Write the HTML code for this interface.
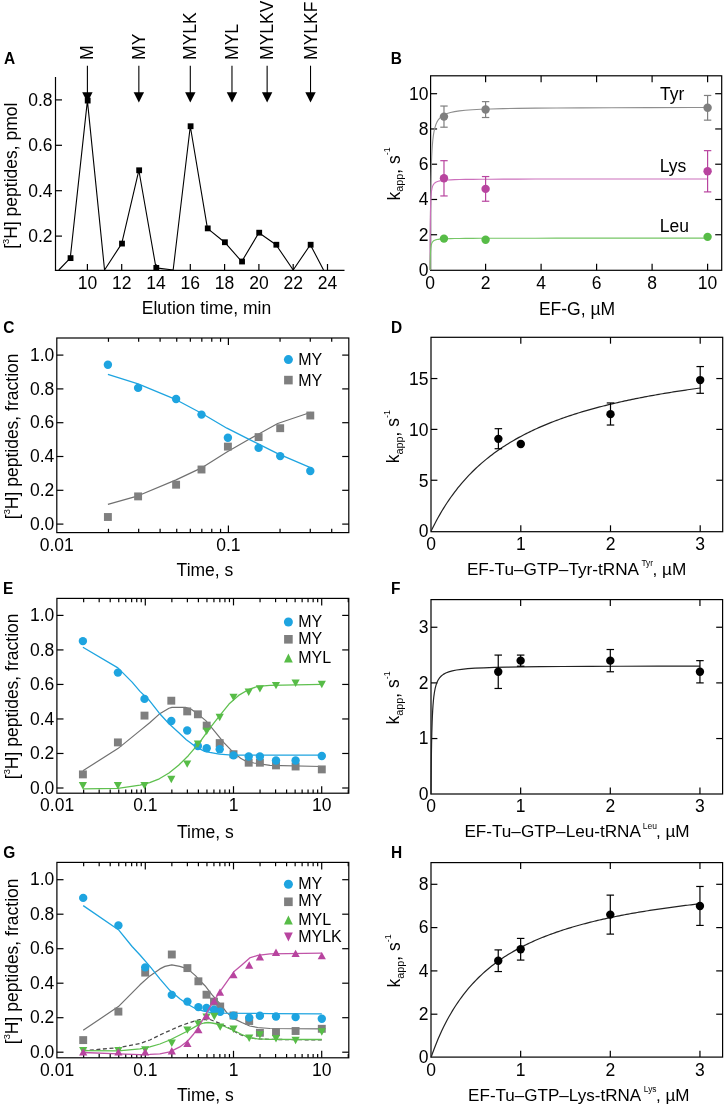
<!DOCTYPE html>
<html><head><meta charset="utf-8"><style>
html,body{margin:0;padding:0;background:#fff;}
svg{display:block;font-family:"Liberation Sans", sans-serif;will-change:transform;}
</style></head><body>
<svg width="725" height="1106" viewBox="0 0 725 1106">
<rect width="725" height="1106" fill="#fff"/>
<text transform="translate(3.91,64.3) scale(0.95,1)" font-size="16.3" font-weight="bold" fill="#000">A</text>
<line x1="55.5" y1="77" x2="55.5" y2="270.6" stroke="#000" stroke-width="1.2" />
<line x1="54.9" y1="270.4" x2="344.5" y2="270.4" stroke="#000" stroke-width="1.2" />
<line x1="55.5" y1="236.1" x2="62" y2="236.1" stroke="#000" stroke-width="1.2" />
<text x="52.5" y="242.1" font-size="17.5" text-anchor="end" font-weight="normal" fill="#000" >0.2</text>
<line x1="55.5" y1="190.7" x2="62" y2="190.7" stroke="#000" stroke-width="1.2" />
<text x="52.5" y="196.7" font-size="17.5" text-anchor="end" font-weight="normal" fill="#000" >0.4</text>
<line x1="55.5" y1="145.3" x2="62" y2="145.3" stroke="#000" stroke-width="1.2" />
<text x="52.5" y="151.3" font-size="17.5" text-anchor="end" font-weight="normal" fill="#000" >0.6</text>
<line x1="55.5" y1="99.9" x2="62" y2="99.9" stroke="#000" stroke-width="1.2" />
<text x="52.5" y="105.9" font-size="17.5" text-anchor="end" font-weight="normal" fill="#000" >0.8</text>
<line x1="87.4" y1="270" x2="87.4" y2="264" stroke="#000" stroke-width="1.2" />
<text x="87.4" y="288.9" font-size="17.5" text-anchor="middle" font-weight="normal" fill="#000" >10</text>
<line x1="121.7" y1="270" x2="121.7" y2="264" stroke="#000" stroke-width="1.2" />
<text x="121.7" y="288.9" font-size="17.5" text-anchor="middle" font-weight="normal" fill="#000" >12</text>
<line x1="156" y1="270" x2="156" y2="264" stroke="#000" stroke-width="1.2" />
<text x="156" y="288.9" font-size="17.5" text-anchor="middle" font-weight="normal" fill="#000" >14</text>
<line x1="190.3" y1="270" x2="190.3" y2="264" stroke="#000" stroke-width="1.2" />
<text x="190.3" y="288.9" font-size="17.5" text-anchor="middle" font-weight="normal" fill="#000" >16</text>
<line x1="224.6" y1="270" x2="224.6" y2="264" stroke="#000" stroke-width="1.2" />
<text x="224.6" y="288.9" font-size="17.5" text-anchor="middle" font-weight="normal" fill="#000" >18</text>
<line x1="258.9" y1="270" x2="258.9" y2="264" stroke="#000" stroke-width="1.2" />
<text x="258.9" y="288.9" font-size="17.5" text-anchor="middle" font-weight="normal" fill="#000" >20</text>
<line x1="293.2" y1="270" x2="293.2" y2="264" stroke="#000" stroke-width="1.2" />
<text x="293.2" y="288.9" font-size="17.5" text-anchor="middle" font-weight="normal" fill="#000" >22</text>
<line x1="327.5" y1="270" x2="327.5" y2="264" stroke="#000" stroke-width="1.2" />
<text x="327.5" y="288.9" font-size="17.5" text-anchor="middle" font-weight="normal" fill="#000" >24</text>
<text x="141.8" y="314.4" font-size="17.5" text-anchor="start" font-weight="normal" fill="#000" >Elution time, min</text>
<text transform="translate(17.3,248.8) rotate(-90)" font-size="17.5" fill="#000">[<tspan font-size="9.3" dy="-8">3</tspan><tspan dy="8">H] peptides, pmol</tspan></text>
<polyline points="58.8,270 70.25,258.12 87.4,100.58 104.55,270 121.7,243.59 138.85,170.27 156,267.88 173.15,270 190.3,126.23 207.45,228.38 224.6,242.23 241.75,261.52 258.9,232.69 276.05,244.73 293.2,270 310.35,244.73 323.56,270" fill="none" stroke="#000" stroke-width="1.1" stroke-linejoin="round" />
<rect x="67.65" y="255.22" width="5.8" height="5.8" fill="#000"/>
<rect x="84.8" y="97.68" width="5.8" height="5.8" fill="#000"/>
<rect x="119.1" y="240.69" width="5.8" height="5.8" fill="#000"/>
<rect x="136.25" y="167.37" width="5.8" height="5.8" fill="#000"/>
<rect x="153.4" y="264.98" width="5.8" height="5.8" fill="#000"/>
<rect x="187.7" y="123.33" width="5.8" height="5.8" fill="#000"/>
<rect x="204.85" y="225.48" width="5.8" height="5.8" fill="#000"/>
<rect x="222" y="239.33" width="5.8" height="5.8" fill="#000"/>
<rect x="239.15" y="258.62" width="5.8" height="5.8" fill="#000"/>
<rect x="256.3" y="229.79" width="5.8" height="5.8" fill="#000"/>
<rect x="273.45" y="241.83" width="5.8" height="5.8" fill="#000"/>
<rect x="307.75" y="241.83" width="5.8" height="5.8" fill="#000"/>
<line x1="87.4" y1="65.7" x2="87.4" y2="93" stroke="#000" stroke-width="1.1" />
<polygon points="82.2,92.2 92.6,92.2 87.4,102.4" fill="#000"/>
<text transform="translate(93.4,59.9) rotate(-90)" font-size="17.5" fill="#000">M</text>
<line x1="138.85" y1="65.7" x2="138.85" y2="93" stroke="#000" stroke-width="1.1" />
<polygon points="133.65,92.2 144.05,92.2 138.85,102.4" fill="#000"/>
<text transform="translate(144.85,59.9) rotate(-90)" font-size="17.5" fill="#000">MY</text>
<line x1="190.3" y1="65.7" x2="190.3" y2="93" stroke="#000" stroke-width="1.1" />
<polygon points="185.1,92.2 195.5,92.2 190.3,102.4" fill="#000"/>
<text transform="translate(196.3,59.9) rotate(-90)" font-size="17.5" fill="#000">MYLK</text>
<line x1="231.97" y1="65.7" x2="231.97" y2="93" stroke="#000" stroke-width="1.1" />
<polygon points="226.77,92.2 237.17,92.2 231.97,102.4" fill="#000"/>
<text transform="translate(237.97,59.9) rotate(-90)" font-size="17.5" fill="#000">MYL</text>
<line x1="267.13" y1="65.7" x2="267.13" y2="93" stroke="#000" stroke-width="1.1" />
<polygon points="261.93,92.2 272.33,92.2 267.13,102.4" fill="#000"/>
<text transform="translate(273.13,59.9) rotate(-90)" font-size="17.5" fill="#000">MYLKV</text>
<line x1="310.52" y1="65.7" x2="310.52" y2="93" stroke="#000" stroke-width="1.1" />
<polygon points="305.32,92.2 315.72,92.2 310.52,102.4" fill="#000"/>
<text transform="translate(316.52,59.9) rotate(-90)" font-size="17.5" fill="#000">MYLKF</text>
<text transform="translate(390.86,64.3) scale(0.95,1)" font-size="16.3" font-weight="bold" fill="#000">B</text>
<rect x="430.6" y="75.8" width="291.1" height="194.5" fill="none" stroke="#000" stroke-width="1.2"/>
<text x="428.5" y="276" font-size="17.5" text-anchor="end" font-weight="normal" fill="#000" >0</text>
<line x1="430.6" y1="234.74" x2="437.1" y2="234.74" stroke="#000" stroke-width="1.2" />
<line x1="721.7" y1="234.74" x2="715.2" y2="234.74" stroke="#000" stroke-width="1.2" />
<text x="428.5" y="240.74" font-size="17.5" text-anchor="end" font-weight="normal" fill="#000" >2</text>
<line x1="430.6" y1="199.48" x2="437.1" y2="199.48" stroke="#000" stroke-width="1.2" />
<line x1="721.7" y1="199.48" x2="715.2" y2="199.48" stroke="#000" stroke-width="1.2" />
<text x="428.5" y="205.48" font-size="17.5" text-anchor="end" font-weight="normal" fill="#000" >4</text>
<line x1="430.6" y1="164.22" x2="437.1" y2="164.22" stroke="#000" stroke-width="1.2" />
<line x1="721.7" y1="164.22" x2="715.2" y2="164.22" stroke="#000" stroke-width="1.2" />
<text x="428.5" y="170.22" font-size="17.5" text-anchor="end" font-weight="normal" fill="#000" >6</text>
<line x1="430.6" y1="128.96" x2="437.1" y2="128.96" stroke="#000" stroke-width="1.2" />
<line x1="721.7" y1="128.96" x2="715.2" y2="128.96" stroke="#000" stroke-width="1.2" />
<text x="428.5" y="134.96" font-size="17.5" text-anchor="end" font-weight="normal" fill="#000" >8</text>
<line x1="430.6" y1="93.7" x2="437.1" y2="93.7" stroke="#000" stroke-width="1.2" />
<line x1="721.7" y1="93.7" x2="715.2" y2="93.7" stroke="#000" stroke-width="1.2" />
<text x="428.5" y="99.7" font-size="17.5" text-anchor="end" font-weight="normal" fill="#000" >10</text>
<text x="430.1" y="288.8" font-size="17.5" text-anchor="middle" font-weight="normal" fill="#000" >0</text>
<line x1="485.6" y1="270.3" x2="485.6" y2="263.8" stroke="#000" stroke-width="1.2" />
<line x1="485.6" y1="75.8" x2="485.6" y2="82.3" stroke="#000" stroke-width="1.2" />
<text x="485.6" y="288.8" font-size="17.5" text-anchor="middle" font-weight="normal" fill="#000" >2</text>
<line x1="541.1" y1="270.3" x2="541.1" y2="263.8" stroke="#000" stroke-width="1.2" />
<line x1="541.1" y1="75.8" x2="541.1" y2="82.3" stroke="#000" stroke-width="1.2" />
<text x="541.1" y="288.8" font-size="17.5" text-anchor="middle" font-weight="normal" fill="#000" >4</text>
<line x1="596.6" y1="270.3" x2="596.6" y2="263.8" stroke="#000" stroke-width="1.2" />
<line x1="596.6" y1="75.8" x2="596.6" y2="82.3" stroke="#000" stroke-width="1.2" />
<text x="596.6" y="288.8" font-size="17.5" text-anchor="middle" font-weight="normal" fill="#000" >6</text>
<line x1="652.1" y1="270.3" x2="652.1" y2="263.8" stroke="#000" stroke-width="1.2" />
<line x1="652.1" y1="75.8" x2="652.1" y2="82.3" stroke="#000" stroke-width="1.2" />
<text x="652.1" y="288.8" font-size="17.5" text-anchor="middle" font-weight="normal" fill="#000" >8</text>
<line x1="707.6" y1="270.3" x2="707.6" y2="263.8" stroke="#000" stroke-width="1.2" />
<line x1="707.6" y1="75.8" x2="707.6" y2="82.3" stroke="#000" stroke-width="1.2" />
<text x="707.6" y="288.8" font-size="17.5" text-anchor="middle" font-weight="normal" fill="#000" >10</text>
<text x="577" y="314.7" font-size="17.5" text-anchor="middle" font-weight="normal" fill="#000" >EF-G, µM</text>
<text transform="translate(399.7,200.5) rotate(-90)" font-size="17.5" fill="#000">k<tspan font-size="10.8" dy="3.5">app</tspan><tspan dy="-3.5">, s</tspan><tspan font-size="9" dy="-9.3">-1</tspan></text>
<polyline points="430.1,270 430.11,266.81 430.12,266.18 430.12,265.44 430.12,264.56 430.13,263.51 430.13,262.28 430.14,260.82 430.15,259.11 430.16,257.1 430.17,254.76 430.19,252.05 430.2,248.92 430.22,245.35 430.25,241.29 430.28,236.72 430.31,231.63 430.36,226.02 430.41,219.93 430.47,213.4 430.54,206.49 430.63,199.3 430.74,191.94 430.87,184.52 431.02,177.17 431.2,170 431.42,163.12 431.69,156.62 432.01,150.57 432.39,145.01 432.84,139.97 433.39,135.44 434.05,131.42 434.84,127.89 435.79,124.8 436.93,122.12 438.3,119.81 439.93,117.83 441.9,116.14 444.26,114.71 447.09,113.49 450.49,112.46 454.57,111.59 459.47,110.86 465.34,110.24 472.39,109.73 480.84,109.3 490.99,108.93 503.17,108.63 517.79,108.38 535.32,108.17 556.37,107.99 581.62,107.84 611.93,107.72 648.29,107.62 691.93,107.53 707.6,107.51" fill="none" stroke="#8e8e8e" stroke-width="1.1" stroke-linejoin="round" />
<polyline points="430.1,270 430.11,264.64 430.12,263.64 430.12,262.47 430.12,261.12 430.13,259.54 430.13,257.73 430.14,255.67 430.15,253.32 430.16,250.69 430.17,247.77 430.19,244.57 430.2,241.1 430.22,237.38 430.25,233.47 430.28,229.42 430.31,225.29 430.36,221.14 430.41,217.04 430.47,213.07 430.54,209.27 430.63,205.69 430.74,202.37 430.87,199.33 431.02,196.58 431.2,194.12 431.42,191.94 431.69,190.03 432.01,188.36 432.39,186.92 432.84,185.67 433.39,184.61 434.05,183.7 434.84,182.93 435.79,182.27 436.93,181.72 438.3,181.26 439.93,180.86 441.9,180.54 444.26,180.26 447.09,180.03 450.49,179.83 454.57,179.67 459.47,179.54 465.34,179.42 472.39,179.33 480.84,179.25 490.99,179.18 503.17,179.13 517.79,179.08 535.32,179.04 556.37,179.01 581.62,178.99 611.93,178.96 648.29,178.95 691.93,178.93 707.6,178.93" fill="none" stroke="#cc70bc" stroke-width="1.1" stroke-linejoin="round" />
<polyline points="430.1,270 430.11,268.72 430.12,268.48 430.12,268.19 430.12,267.86 430.13,267.46 430.13,267 430.14,266.47 430.15,265.85 430.16,265.15 430.17,264.35 430.19,263.46 430.2,262.46 430.22,261.36 430.25,260.16 430.28,258.88 430.31,257.52 430.36,256.11 430.41,254.67 430.47,253.22 430.54,251.78 430.63,250.38 430.74,249.03 430.87,247.76 431.02,246.58 431.2,245.49 431.42,244.5 431.69,243.62 432.01,242.84 432.39,242.15 432.84,241.54 433.39,241.02 434.05,240.57 434.84,240.18 435.79,239.85 436.93,239.57 438.3,239.34 439.93,239.13 441.9,238.97 444.26,238.82 447.09,238.7 450.49,238.6 454.57,238.52 459.47,238.45 465.34,238.39 472.39,238.34 480.84,238.3 490.99,238.26 503.17,238.23 517.79,238.21 535.32,238.19 556.37,238.17 581.62,238.16 611.93,238.15 648.29,238.14 691.93,238.13 707.6,238.13" fill="none" stroke="#76c666" stroke-width="1.1" stroke-linejoin="round" />
<line x1="443.98" y1="106.04" x2="443.98" y2="127.2" stroke="#7f7f7f" stroke-width="1.2" />
<line x1="440.28" y1="106.04" x2="447.68" y2="106.04" stroke="#7f7f7f" stroke-width="1.2" />
<line x1="440.28" y1="127.2" x2="447.68" y2="127.2" stroke="#7f7f7f" stroke-width="1.2" />
<circle cx="443.98" cy="116.62" r="4.2" fill="#7f7f7f"/>
<line x1="485.6" y1="101.63" x2="485.6" y2="117.5" stroke="#7f7f7f" stroke-width="1.2" />
<line x1="481.9" y1="101.63" x2="489.3" y2="101.63" stroke="#7f7f7f" stroke-width="1.2" />
<line x1="481.9" y1="117.5" x2="489.3" y2="117.5" stroke="#7f7f7f" stroke-width="1.2" />
<circle cx="485.6" cy="109.57" r="4.2" fill="#7f7f7f"/>
<line x1="707.6" y1="95.46" x2="707.6" y2="120.15" stroke="#7f7f7f" stroke-width="1.2" />
<line x1="703.9" y1="95.46" x2="711.3" y2="95.46" stroke="#7f7f7f" stroke-width="1.2" />
<line x1="703.9" y1="120.15" x2="711.3" y2="120.15" stroke="#7f7f7f" stroke-width="1.2" />
<circle cx="707.6" cy="107.8" r="4.2" fill="#7f7f7f"/>
<line x1="443.98" y1="160.69" x2="443.98" y2="195.95" stroke="#b8449f" stroke-width="1.2" />
<line x1="440.28" y1="160.69" x2="447.68" y2="160.69" stroke="#b8449f" stroke-width="1.2" />
<line x1="440.28" y1="195.95" x2="447.68" y2="195.95" stroke="#b8449f" stroke-width="1.2" />
<circle cx="443.98" cy="178.32" r="4.2" fill="#b8449f"/>
<line x1="485.6" y1="176.56" x2="485.6" y2="201.24" stroke="#b8449f" stroke-width="1.2" />
<line x1="481.9" y1="176.56" x2="489.3" y2="176.56" stroke="#b8449f" stroke-width="1.2" />
<line x1="481.9" y1="201.24" x2="489.3" y2="201.24" stroke="#b8449f" stroke-width="1.2" />
<circle cx="485.6" cy="188.9" r="4.2" fill="#b8449f"/>
<line x1="707.6" y1="150.64" x2="707.6" y2="191.9" stroke="#b8449f" stroke-width="1.2" />
<line x1="703.9" y1="150.64" x2="711.3" y2="150.64" stroke="#b8449f" stroke-width="1.2" />
<line x1="703.9" y1="191.9" x2="711.3" y2="191.9" stroke="#b8449f" stroke-width="1.2" />
<circle cx="707.6" cy="171.27" r="4.2" fill="#b8449f"/>
<circle cx="443.98" cy="238.62" r="4.2" fill="#57bc47"/>
<circle cx="485.6" cy="239.68" r="4.2" fill="#57bc47"/>
<circle cx="707.6" cy="236.86" r="4.2" fill="#57bc47"/>
<text x="659.91" y="100" font-size="17.5" text-anchor="start" font-weight="normal" fill="#000" >Tyr</text>
<text x="659.77" y="172.1" font-size="17.5" text-anchor="start" font-weight="normal" fill="#000" >Lys</text>
<text x="659.77" y="232.3" font-size="17.5" text-anchor="start" font-weight="normal" fill="#000" >Leu</text>
<text transform="translate(3.37,333.3) scale(0.95,1)" font-size="16.3" font-weight="bold" fill="#000">C</text>
<rect x="56.8" y="338" width="292" height="194.6" fill="none" stroke="#000" stroke-width="1.2"/>
<line x1="108.46" y1="532.6" x2="108.46" y2="528.8" stroke="#000" stroke-width="1.2" />
<line x1="108.46" y1="338" x2="108.46" y2="341.8" stroke="#000" stroke-width="1.2" />
<line x1="138.67" y1="532.6" x2="138.67" y2="528.8" stroke="#000" stroke-width="1.2" />
<line x1="138.67" y1="338" x2="138.67" y2="341.8" stroke="#000" stroke-width="1.2" />
<line x1="160.11" y1="532.6" x2="160.11" y2="528.8" stroke="#000" stroke-width="1.2" />
<line x1="160.11" y1="338" x2="160.11" y2="341.8" stroke="#000" stroke-width="1.2" />
<line x1="176.74" y1="532.6" x2="176.74" y2="528.8" stroke="#000" stroke-width="1.2" />
<line x1="176.74" y1="338" x2="176.74" y2="341.8" stroke="#000" stroke-width="1.2" />
<line x1="190.33" y1="532.6" x2="190.33" y2="528.8" stroke="#000" stroke-width="1.2" />
<line x1="190.33" y1="338" x2="190.33" y2="341.8" stroke="#000" stroke-width="1.2" />
<line x1="201.82" y1="532.6" x2="201.82" y2="528.8" stroke="#000" stroke-width="1.2" />
<line x1="201.82" y1="338" x2="201.82" y2="341.8" stroke="#000" stroke-width="1.2" />
<line x1="211.77" y1="532.6" x2="211.77" y2="528.8" stroke="#000" stroke-width="1.2" />
<line x1="211.77" y1="338" x2="211.77" y2="341.8" stroke="#000" stroke-width="1.2" />
<line x1="220.55" y1="532.6" x2="220.55" y2="528.8" stroke="#000" stroke-width="1.2" />
<line x1="220.55" y1="338" x2="220.55" y2="341.8" stroke="#000" stroke-width="1.2" />
<line x1="228.4" y1="532.6" x2="228.4" y2="525.6" stroke="#000" stroke-width="1.2" />
<line x1="228.4" y1="338" x2="228.4" y2="345" stroke="#000" stroke-width="1.2" />
<line x1="280.06" y1="532.6" x2="280.06" y2="528.8" stroke="#000" stroke-width="1.2" />
<line x1="280.06" y1="338" x2="280.06" y2="341.8" stroke="#000" stroke-width="1.2" />
<line x1="310.27" y1="532.6" x2="310.27" y2="528.8" stroke="#000" stroke-width="1.2" />
<line x1="310.27" y1="338" x2="310.27" y2="341.8" stroke="#000" stroke-width="1.2" />
<line x1="331.71" y1="532.6" x2="331.71" y2="528.8" stroke="#000" stroke-width="1.2" />
<line x1="331.71" y1="338" x2="331.71" y2="341.8" stroke="#000" stroke-width="1.2" />
<line x1="56.8" y1="524.1" x2="63.4" y2="524.1" stroke="#000" stroke-width="1.2" />
<line x1="348.8" y1="524.1" x2="342.2" y2="524.1" stroke="#000" stroke-width="1.2" />
<text x="54.3" y="529.8" font-size="17.5" text-anchor="end" font-weight="normal" fill="#000" >0.0</text>
<line x1="56.8" y1="490.3" x2="63.4" y2="490.3" stroke="#000" stroke-width="1.2" />
<line x1="348.8" y1="490.3" x2="342.2" y2="490.3" stroke="#000" stroke-width="1.2" />
<text x="54.3" y="496" font-size="17.5" text-anchor="end" font-weight="normal" fill="#000" >0.2</text>
<line x1="56.8" y1="456.5" x2="63.4" y2="456.5" stroke="#000" stroke-width="1.2" />
<line x1="348.8" y1="456.5" x2="342.2" y2="456.5" stroke="#000" stroke-width="1.2" />
<text x="54.3" y="462.2" font-size="17.5" text-anchor="end" font-weight="normal" fill="#000" >0.4</text>
<line x1="56.8" y1="422.7" x2="63.4" y2="422.7" stroke="#000" stroke-width="1.2" />
<line x1="348.8" y1="422.7" x2="342.2" y2="422.7" stroke="#000" stroke-width="1.2" />
<text x="54.3" y="428.4" font-size="17.5" text-anchor="end" font-weight="normal" fill="#000" >0.6</text>
<line x1="56.8" y1="388.9" x2="63.4" y2="388.9" stroke="#000" stroke-width="1.2" />
<line x1="348.8" y1="388.9" x2="342.2" y2="388.9" stroke="#000" stroke-width="1.2" />
<text x="54.3" y="394.6" font-size="17.5" text-anchor="end" font-weight="normal" fill="#000" >0.8</text>
<line x1="56.8" y1="355.1" x2="63.4" y2="355.1" stroke="#000" stroke-width="1.2" />
<line x1="348.8" y1="355.1" x2="342.2" y2="355.1" stroke="#000" stroke-width="1.2" />
<text x="54.3" y="360.8" font-size="17.5" text-anchor="end" font-weight="normal" fill="#000" >1.0</text>
<text x="56.8" y="551.1" font-size="17.5" text-anchor="middle" font-weight="normal" fill="#000" >0.01</text>
<text x="228.4" y="551.1" font-size="17.5" text-anchor="middle" font-weight="normal" fill="#000" >0.1</text>
<text x="176.62" y="575.5" font-size="17.5" text-anchor="start" font-weight="normal" fill="#000" >Time, s</text>
<text transform="translate(17.5,519.2) rotate(-90)" font-size="17.5" fill="#000">[<tspan font-size="9.3" dy="-8">3</tspan><tspan dy="8">H] peptides, fraction</tspan></text>
<polyline points="107.9,504.4 138.1,495.8 176.1,479.9 201.5,467.9 226.9,452 249.1,439.3 277.7,423.5 311,412.3" fill="none" stroke="#707070" stroke-width="1.2" stroke-linejoin="round" />
<rect x="103.95" y="513.05" width="7.9" height="7.9" fill="#7f7f7f"/>
<rect x="134.15" y="492.45" width="7.9" height="7.9" fill="#7f7f7f"/>
<rect x="172.15" y="480.75" width="7.9" height="7.9" fill="#7f7f7f"/>
<rect x="197.55" y="465.55" width="7.9" height="7.9" fill="#7f7f7f"/>
<rect x="223.95" y="442.65" width="7.9" height="7.9" fill="#7f7f7f"/>
<rect x="254.65" y="433.15" width="7.9" height="7.9" fill="#7f7f7f"/>
<rect x="276.25" y="424.25" width="7.9" height="7.9" fill="#7f7f7f"/>
<rect x="306.35" y="411.55" width="7.9" height="7.9" fill="#7f7f7f"/>
<polyline points="107.9,374.3 138.1,383.8 176.1,399.7 201.5,413.3 226.9,428.2 249.1,439.3 277.7,453.6 311,467.9" fill="none" stroke="#1ea4e0" stroke-width="1.3" stroke-linejoin="round" />
<circle cx="107.9" cy="364.8" r="4.2" fill="#1ea4e0"/>
<circle cx="138.1" cy="387.9" r="4.2" fill="#1ea4e0"/>
<circle cx="176.1" cy="399" r="4.2" fill="#1ea4e0"/>
<circle cx="201.5" cy="414.6" r="4.2" fill="#1ea4e0"/>
<circle cx="227.9" cy="437.7" r="4.2" fill="#1ea4e0"/>
<circle cx="258.6" cy="447.9" r="4.2" fill="#1ea4e0"/>
<circle cx="280.2" cy="456.1" r="4.2" fill="#1ea4e0"/>
<circle cx="310.3" cy="471" r="4.2" fill="#1ea4e0"/>
<circle cx="288.4" cy="359.6" r="4.5" fill="#1ea4e0"/>
<text x="298.19" y="365.4" font-size="16" text-anchor="start" font-weight="normal" fill="#000" >MY</text>
<rect x="284.1" y="375.8" width="8.6" height="8.6" fill="#7f7f7f"/>
<text x="298.19" y="385.6" font-size="16" text-anchor="start" font-weight="normal" fill="#000" >MY</text>
<text transform="translate(390.96,333.1) scale(0.95,1)" font-size="16.3" font-weight="bold" fill="#000">D</text>
<rect x="431" y="337.3" width="291.7" height="194.4" fill="none" stroke="#000" stroke-width="1.2"/>
<text x="428.4" y="537.4" font-size="17.5" text-anchor="end" font-weight="normal" fill="#000" >0</text>
<line x1="431" y1="480.25" x2="437.4" y2="480.25" stroke="#000" stroke-width="1.2" />
<line x1="722.7" y1="480.25" x2="716.3" y2="480.25" stroke="#000" stroke-width="1.2" />
<text x="428.4" y="486.55" font-size="17.5" text-anchor="end" font-weight="normal" fill="#000" >5</text>
<line x1="431" y1="429.4" x2="437.4" y2="429.4" stroke="#000" stroke-width="1.2" />
<line x1="722.7" y1="429.4" x2="716.3" y2="429.4" stroke="#000" stroke-width="1.2" />
<text x="428.4" y="435.7" font-size="17.5" text-anchor="end" font-weight="normal" fill="#000" >10</text>
<line x1="431" y1="378.55" x2="437.4" y2="378.55" stroke="#000" stroke-width="1.2" />
<line x1="722.7" y1="378.55" x2="716.3" y2="378.55" stroke="#000" stroke-width="1.2" />
<text x="428.4" y="384.85" font-size="17.5" text-anchor="end" font-weight="normal" fill="#000" >15</text>
<text x="431.1" y="549.5" font-size="17.5" text-anchor="middle" font-weight="normal" fill="#000" >0</text>
<line x1="520.8" y1="531.7" x2="520.8" y2="525.3" stroke="#000" stroke-width="1.2" />
<line x1="520.8" y1="337.3" x2="520.8" y2="343.7" stroke="#000" stroke-width="1.2" />
<text x="520.8" y="549.5" font-size="17.5" text-anchor="middle" font-weight="normal" fill="#000" >1</text>
<line x1="610.5" y1="531.7" x2="610.5" y2="525.3" stroke="#000" stroke-width="1.2" />
<line x1="610.5" y1="337.3" x2="610.5" y2="343.7" stroke="#000" stroke-width="1.2" />
<text x="610.5" y="549.5" font-size="17.5" text-anchor="middle" font-weight="normal" fill="#000" >2</text>
<line x1="700.2" y1="531.7" x2="700.2" y2="525.3" stroke="#000" stroke-width="1.2" />
<line x1="700.2" y1="337.3" x2="700.2" y2="343.7" stroke="#000" stroke-width="1.2" />
<text x="700.2" y="549.5" font-size="17.5" text-anchor="middle" font-weight="normal" fill="#000" >3</text>
<text transform="translate(399.1,463.2) rotate(-90)" font-size="17.5" fill="#000">k<tspan font-size="10.8" dy="3.5">app</tspan><tspan dy="-3.5">, s</tspan><tspan font-size="9" dy="-9.3">-1</tspan></text>
<polyline points="431.1,531.1 432.89,527.44 434.69,523.91 436.48,520.52 438.28,517.25 440.07,514.09 441.86,511.04 443.66,508.1 445.45,505.26 447.25,502.51 449.04,499.85 450.83,497.27 452.63,494.78 454.42,492.36 456.22,490.02 458.01,487.74 459.8,485.54 461.6,483.4 463.39,481.32 465.19,479.3 466.98,477.33 468.77,475.42 470.57,473.57 472.36,471.76 474.16,470 475.95,468.29 477.74,466.62 479.54,464.99 481.33,463.4 483.13,461.86 484.92,460.35 486.71,458.87 488.51,457.44 490.3,456.03 492.1,454.66 493.89,453.33 495.68,452.02 497.48,450.74 499.27,449.49 501.07,448.27 502.86,447.07 504.65,445.9 506.45,444.76 508.24,443.64 510.04,442.54 511.83,441.47 513.62,440.41 515.42,439.38 517.21,438.37 519.01,437.38 520.8,436.41 522.59,435.46 524.39,434.53 526.18,433.61 527.98,432.72 529.77,431.84 531.56,430.97 533.36,430.12 535.15,429.29 536.95,428.47 538.74,427.67 540.53,426.88 542.33,426.1 544.12,425.34 545.92,424.59 547.71,423.86 549.5,423.13 551.3,422.42 553.09,421.72 554.89,421.04 556.68,420.36 558.47,419.69 560.27,419.04 562.06,418.4 563.86,417.76 565.65,417.14 567.44,416.53 569.24,415.92 571.03,415.33 572.83,414.74 574.62,414.16 576.41,413.6 578.21,413.04 580,412.49 581.8,411.94 583.59,411.41 585.38,410.88 587.18,410.36 588.97,409.85 590.77,409.34 592.56,408.84 594.35,408.35 596.15,407.87 597.94,407.39 599.74,406.92 601.53,406.46 603.32,406 605.12,405.55 606.91,405.1 608.71,404.66 610.5,404.23 612.29,403.8 614.09,403.38 615.88,402.96 617.68,402.55 619.47,402.14 621.26,401.74 623.06,401.34 624.85,400.95 626.65,400.56 628.44,400.18 630.23,399.8 632.03,399.43 633.82,399.06 635.62,398.7 637.41,398.34 639.2,397.99 641,397.63 642.79,397.29 644.59,396.95 646.38,396.61 648.17,396.27 649.97,395.94 651.76,395.61 653.56,395.29 655.35,394.97 657.14,394.66 658.94,394.34 660.73,394.03 662.53,393.73 664.32,393.43 666.11,393.13 667.91,392.83 669.7,392.54 671.5,392.25 673.29,391.96 675.08,391.68 676.88,391.4 678.67,391.12 680.47,390.85 682.26,390.58 684.05,390.31 685.85,390.04 687.64,389.78 689.44,389.52 691.23,389.26 693.02,389.01 694.82,388.76 696.61,388.51 698.41,388.26 700.2,388.01" fill="none" stroke="#222" stroke-width="1.2" stroke-linejoin="round" />
<line x1="498.38" y1="428.69" x2="498.38" y2="448.72" stroke="#000" stroke-width="1.2" />
<line x1="494.62" y1="428.69" x2="502.12" y2="428.69" stroke="#000" stroke-width="1.2" />
<line x1="494.62" y1="448.72" x2="502.12" y2="448.72" stroke="#000" stroke-width="1.2" />
<line x1="610.5" y1="402.96" x2="610.5" y2="425.03" stroke="#000" stroke-width="1.2" />
<line x1="606.75" y1="402.96" x2="614.25" y2="402.96" stroke="#000" stroke-width="1.2" />
<line x1="606.75" y1="425.03" x2="614.25" y2="425.03" stroke="#000" stroke-width="1.2" />
<line x1="700.2" y1="366.55" x2="700.2" y2="393.3" stroke="#000" stroke-width="1.2" />
<line x1="696.45" y1="366.55" x2="703.95" y2="366.55" stroke="#000" stroke-width="1.2" />
<line x1="696.45" y1="393.3" x2="703.95" y2="393.3" stroke="#000" stroke-width="1.2" />
<circle cx="498.38" cy="438.86" r="4.2" fill="#000"/>
<circle cx="520.8" cy="444.04" r="4.2" fill="#000"/>
<circle cx="610.5" cy="414.15" r="4.2" fill="#000"/>
<circle cx="700.2" cy="380.08" r="4.2" fill="#000"/>
<text x="466.89" y="575.4" font-size="17.2" text-anchor="start" font-weight="normal" fill="#000" >EF-Tu–GTP–Tyr-tRNA</text>
<text x="641.43" y="566.2" font-size="8.3" text-anchor="start" font-weight="normal" fill="#000" >Tyr</text>
<text x="652.46" y="575.4" font-size="17.2" text-anchor="start" font-weight="normal" fill="#000" >, µM</text>
<text transform="translate(2.96,593.8) scale(0.95,1)" font-size="16.3" font-weight="bold" fill="#000">E</text>
<rect x="56.9" y="598.4" width="291.9" height="194.8" fill="none" stroke="#000" stroke-width="1.2"/>
<line x1="83.65" y1="793.2" x2="83.65" y2="789.4" stroke="#000" stroke-width="1.2" />
<line x1="83.65" y1="598.4" x2="83.65" y2="602.2" stroke="#000" stroke-width="1.2" />
<line x1="99.18" y1="793.2" x2="99.18" y2="789.4" stroke="#000" stroke-width="1.2" />
<line x1="99.18" y1="598.4" x2="99.18" y2="602.2" stroke="#000" stroke-width="1.2" />
<line x1="110.2" y1="793.2" x2="110.2" y2="789.4" stroke="#000" stroke-width="1.2" />
<line x1="110.2" y1="598.4" x2="110.2" y2="602.2" stroke="#000" stroke-width="1.2" />
<line x1="118.75" y1="793.2" x2="118.75" y2="789.4" stroke="#000" stroke-width="1.2" />
<line x1="118.75" y1="598.4" x2="118.75" y2="602.2" stroke="#000" stroke-width="1.2" />
<line x1="125.73" y1="793.2" x2="125.73" y2="789.4" stroke="#000" stroke-width="1.2" />
<line x1="125.73" y1="598.4" x2="125.73" y2="602.2" stroke="#000" stroke-width="1.2" />
<line x1="131.64" y1="793.2" x2="131.64" y2="789.4" stroke="#000" stroke-width="1.2" />
<line x1="131.64" y1="598.4" x2="131.64" y2="602.2" stroke="#000" stroke-width="1.2" />
<line x1="136.75" y1="793.2" x2="136.75" y2="789.4" stroke="#000" stroke-width="1.2" />
<line x1="136.75" y1="598.4" x2="136.75" y2="602.2" stroke="#000" stroke-width="1.2" />
<line x1="141.26" y1="793.2" x2="141.26" y2="789.4" stroke="#000" stroke-width="1.2" />
<line x1="141.26" y1="598.4" x2="141.26" y2="602.2" stroke="#000" stroke-width="1.2" />
<line x1="145.3" y1="793.2" x2="145.3" y2="786.2" stroke="#000" stroke-width="1.2" />
<line x1="145.3" y1="598.4" x2="145.3" y2="605.4" stroke="#000" stroke-width="1.2" />
<line x1="171.85" y1="793.2" x2="171.85" y2="789.4" stroke="#000" stroke-width="1.2" />
<line x1="171.85" y1="598.4" x2="171.85" y2="602.2" stroke="#000" stroke-width="1.2" />
<line x1="187.38" y1="793.2" x2="187.38" y2="789.4" stroke="#000" stroke-width="1.2" />
<line x1="187.38" y1="598.4" x2="187.38" y2="602.2" stroke="#000" stroke-width="1.2" />
<line x1="198.4" y1="793.2" x2="198.4" y2="789.4" stroke="#000" stroke-width="1.2" />
<line x1="198.4" y1="598.4" x2="198.4" y2="602.2" stroke="#000" stroke-width="1.2" />
<line x1="206.95" y1="793.2" x2="206.95" y2="789.4" stroke="#000" stroke-width="1.2" />
<line x1="206.95" y1="598.4" x2="206.95" y2="602.2" stroke="#000" stroke-width="1.2" />
<line x1="213.93" y1="793.2" x2="213.93" y2="789.4" stroke="#000" stroke-width="1.2" />
<line x1="213.93" y1="598.4" x2="213.93" y2="602.2" stroke="#000" stroke-width="1.2" />
<line x1="219.84" y1="793.2" x2="219.84" y2="789.4" stroke="#000" stroke-width="1.2" />
<line x1="219.84" y1="598.4" x2="219.84" y2="602.2" stroke="#000" stroke-width="1.2" />
<line x1="224.95" y1="793.2" x2="224.95" y2="789.4" stroke="#000" stroke-width="1.2" />
<line x1="224.95" y1="598.4" x2="224.95" y2="602.2" stroke="#000" stroke-width="1.2" />
<line x1="229.46" y1="793.2" x2="229.46" y2="789.4" stroke="#000" stroke-width="1.2" />
<line x1="229.46" y1="598.4" x2="229.46" y2="602.2" stroke="#000" stroke-width="1.2" />
<line x1="233.5" y1="793.2" x2="233.5" y2="786.2" stroke="#000" stroke-width="1.2" />
<line x1="233.5" y1="598.4" x2="233.5" y2="605.4" stroke="#000" stroke-width="1.2" />
<line x1="260.05" y1="793.2" x2="260.05" y2="789.4" stroke="#000" stroke-width="1.2" />
<line x1="260.05" y1="598.4" x2="260.05" y2="602.2" stroke="#000" stroke-width="1.2" />
<line x1="275.58" y1="793.2" x2="275.58" y2="789.4" stroke="#000" stroke-width="1.2" />
<line x1="275.58" y1="598.4" x2="275.58" y2="602.2" stroke="#000" stroke-width="1.2" />
<line x1="286.6" y1="793.2" x2="286.6" y2="789.4" stroke="#000" stroke-width="1.2" />
<line x1="286.6" y1="598.4" x2="286.6" y2="602.2" stroke="#000" stroke-width="1.2" />
<line x1="295.15" y1="793.2" x2="295.15" y2="789.4" stroke="#000" stroke-width="1.2" />
<line x1="295.15" y1="598.4" x2="295.15" y2="602.2" stroke="#000" stroke-width="1.2" />
<line x1="302.13" y1="793.2" x2="302.13" y2="789.4" stroke="#000" stroke-width="1.2" />
<line x1="302.13" y1="598.4" x2="302.13" y2="602.2" stroke="#000" stroke-width="1.2" />
<line x1="308.04" y1="793.2" x2="308.04" y2="789.4" stroke="#000" stroke-width="1.2" />
<line x1="308.04" y1="598.4" x2="308.04" y2="602.2" stroke="#000" stroke-width="1.2" />
<line x1="313.15" y1="793.2" x2="313.15" y2="789.4" stroke="#000" stroke-width="1.2" />
<line x1="313.15" y1="598.4" x2="313.15" y2="602.2" stroke="#000" stroke-width="1.2" />
<line x1="317.66" y1="793.2" x2="317.66" y2="789.4" stroke="#000" stroke-width="1.2" />
<line x1="317.66" y1="598.4" x2="317.66" y2="602.2" stroke="#000" stroke-width="1.2" />
<line x1="321.7" y1="793.2" x2="321.7" y2="786.2" stroke="#000" stroke-width="1.2" />
<line x1="321.7" y1="598.4" x2="321.7" y2="605.4" stroke="#000" stroke-width="1.2" />
<line x1="348.25" y1="793.2" x2="348.25" y2="789.4" stroke="#000" stroke-width="1.2" />
<line x1="348.25" y1="598.4" x2="348.25" y2="602.2" stroke="#000" stroke-width="1.2" />
<line x1="56.9" y1="788" x2="63.5" y2="788" stroke="#000" stroke-width="1.2" />
<line x1="348.8" y1="788" x2="342.2" y2="788" stroke="#000" stroke-width="1.2" />
<text x="54.3" y="793.7" font-size="17.5" text-anchor="end" font-weight="normal" fill="#000" >0.0</text>
<line x1="56.9" y1="753.48" x2="63.5" y2="753.48" stroke="#000" stroke-width="1.2" />
<line x1="348.8" y1="753.48" x2="342.2" y2="753.48" stroke="#000" stroke-width="1.2" />
<text x="54.3" y="759.18" font-size="17.5" text-anchor="end" font-weight="normal" fill="#000" >0.2</text>
<line x1="56.9" y1="718.96" x2="63.5" y2="718.96" stroke="#000" stroke-width="1.2" />
<line x1="348.8" y1="718.96" x2="342.2" y2="718.96" stroke="#000" stroke-width="1.2" />
<text x="54.3" y="724.66" font-size="17.5" text-anchor="end" font-weight="normal" fill="#000" >0.4</text>
<line x1="56.9" y1="684.44" x2="63.5" y2="684.44" stroke="#000" stroke-width="1.2" />
<line x1="348.8" y1="684.44" x2="342.2" y2="684.44" stroke="#000" stroke-width="1.2" />
<text x="54.3" y="690.14" font-size="17.5" text-anchor="end" font-weight="normal" fill="#000" >0.6</text>
<line x1="56.9" y1="649.92" x2="63.5" y2="649.92" stroke="#000" stroke-width="1.2" />
<line x1="348.8" y1="649.92" x2="342.2" y2="649.92" stroke="#000" stroke-width="1.2" />
<text x="54.3" y="655.62" font-size="17.5" text-anchor="end" font-weight="normal" fill="#000" >0.8</text>
<line x1="56.9" y1="615.4" x2="63.5" y2="615.4" stroke="#000" stroke-width="1.2" />
<line x1="348.8" y1="615.4" x2="342.2" y2="615.4" stroke="#000" stroke-width="1.2" />
<text x="54.3" y="621.1" font-size="17.5" text-anchor="end" font-weight="normal" fill="#000" >1.0</text>
<text x="57.1" y="811.1" font-size="17.5" text-anchor="middle" font-weight="normal" fill="#000" >0.01</text>
<text x="145.3" y="811.1" font-size="17.5" text-anchor="middle" font-weight="normal" fill="#000" >0.1</text>
<text x="233.5" y="811.1" font-size="17.5" text-anchor="middle" font-weight="normal" fill="#000" >1</text>
<text x="321.7" y="811.1" font-size="17.5" text-anchor="middle" font-weight="normal" fill="#000" >10</text>
<text x="177.02" y="838.3" font-size="17.5" text-anchor="start" font-weight="normal" fill="#000" >Time, s</text>
<text transform="translate(17.5,779.2) rotate(-90)" font-size="17.5" fill="#000">[<tspan font-size="9.3" dy="-8">3</tspan><tspan dy="8">H] peptides, fraction</tspan></text>
<polyline points="82.9,770.7 117.9,748.6 140,730.6 149.7,722.8 159.3,714.1 169,708.3 171.9,707.4 185.4,707.4 191.2,709.3 197.9,714.1 205.8,720.6 214.5,731.2 224.1,742.8 232.8,751.9 240.6,758.2 246.3,761.6 254.1,763 270,765.4 321.8,766.5" fill="none" stroke="#707070" stroke-width="1.2" stroke-linejoin="round" />
<rect x="78.95" y="770.45" width="7.9" height="7.9" fill="#7f7f7f"/>
<rect x="113.95" y="738.45" width="7.9" height="7.9" fill="#7f7f7f"/>
<rect x="140.55" y="711.65" width="7.9" height="7.9" fill="#7f7f7f"/>
<rect x="167.35" y="696.75" width="7.9" height="7.9" fill="#7f7f7f"/>
<rect x="183.25" y="707.45" width="7.9" height="7.9" fill="#7f7f7f"/>
<rect x="193.95" y="710.35" width="7.9" height="7.9" fill="#7f7f7f"/>
<rect x="202.75" y="721.65" width="7.9" height="7.9" fill="#7f7f7f"/>
<rect x="215.75" y="739.15" width="7.9" height="7.9" fill="#7f7f7f"/>
<rect x="229.55" y="750.25" width="7.9" height="7.9" fill="#7f7f7f"/>
<rect x="244.75" y="758.75" width="7.9" height="7.9" fill="#7f7f7f"/>
<rect x="255.95" y="758.75" width="7.9" height="7.9" fill="#7f7f7f"/>
<rect x="272.05" y="761.45" width="7.9" height="7.9" fill="#7f7f7f"/>
<rect x="291.65" y="762.55" width="7.9" height="7.9" fill="#7f7f7f"/>
<rect x="317.85" y="765.45" width="7.9" height="7.9" fill="#7f7f7f"/>
<polyline points="82.9,647.3 117.9,667.9 132.1,682.1 140,691.4 148.7,699.7 159.3,713.2 169,723.8 178.6,732.5 186.3,739.7 192.1,744.1 197.9,747.9 203.7,750.8 209.7,752.4 219.3,754.2 229,754.8 238.6,755.1 321.8,755.2" fill="none" stroke="#1ea4e0" stroke-width="1.3" stroke-linejoin="round" />
<circle cx="82.9" cy="641.1" r="4.2" fill="#1ea4e0"/>
<circle cx="117.9" cy="672.6" r="4.2" fill="#1ea4e0"/>
<circle cx="144.5" cy="698.9" r="4.2" fill="#1ea4e0"/>
<circle cx="171.3" cy="721" r="4.2" fill="#1ea4e0"/>
<circle cx="187.2" cy="730.5" r="4.2" fill="#1ea4e0"/>
<circle cx="197.9" cy="746.1" r="4.2" fill="#1ea4e0"/>
<circle cx="206.7" cy="748.2" r="4.2" fill="#1ea4e0"/>
<circle cx="219.7" cy="749.3" r="4.2" fill="#1ea4e0"/>
<circle cx="233.5" cy="755.4" r="4.2" fill="#1ea4e0"/>
<circle cx="248.7" cy="756.5" r="4.2" fill="#1ea4e0"/>
<circle cx="259.9" cy="756.5" r="4.2" fill="#1ea4e0"/>
<circle cx="276" cy="760.5" r="4.2" fill="#1ea4e0"/>
<circle cx="295.6" cy="760.5" r="4.2" fill="#1ea4e0"/>
<circle cx="321.8" cy="756" r="4.2" fill="#1ea4e0"/>
<polyline points="82.9,788.8 117.9,788.4 140,785.1 149.7,782.7 159.3,778.8 169,773 178.6,765.3 188.3,755.7 194.1,748.9 200,741.8 209.7,728.3 219.3,716.2 229,704.1 238.6,695.4 248.3,689.7 257.9,686.3 270,685.3 321.8,684.3" fill="none" stroke="#5fc04f" stroke-width="1.3" stroke-linejoin="round" />
<polygon points="78.8,782 87,782 82.9,789.4" fill="#57bc47"/>
<polygon points="113.8,782 122,782 117.9,789.4" fill="#57bc47"/>
<polygon points="140.4,782 148.6,782 144.5,789.4" fill="#57bc47"/>
<polygon points="167.2,775.8 175.4,775.8 171.3,783.2" fill="#57bc47"/>
<polygon points="183.1,760.4 191.3,760.4 187.2,767.8" fill="#57bc47"/>
<polygon points="193.8,740.5 202,740.5 197.9,747.9" fill="#57bc47"/>
<polygon points="202.6,727.7 210.8,727.7 206.7,735.1" fill="#57bc47"/>
<polygon points="215.6,713.8 223.8,713.8 219.7,721.2" fill="#57bc47"/>
<polygon points="229.4,693.7 237.6,693.7 233.5,701.1" fill="#57bc47"/>
<polygon points="244.6,688.6 252.8,688.6 248.7,696" fill="#57bc47"/>
<polygon points="255.8,685.2 264,685.2 259.9,692.6" fill="#57bc47"/>
<polygon points="271.9,681.9 280.1,681.9 276,689.3" fill="#57bc47"/>
<polygon points="291.5,679.6 299.7,679.6 295.6,687" fill="#57bc47"/>
<polygon points="317.7,680.8 325.9,680.8 321.8,688.2" fill="#57bc47"/>
<circle cx="288.4" cy="622" r="4.5" fill="#1ea4e0"/>
<text x="298.19" y="626.6" font-size="16" text-anchor="start" font-weight="normal" fill="#000" >MY</text>
<rect x="284.1" y="635" width="8.6" height="8.6" fill="#7f7f7f"/>
<text x="298.19" y="644" font-size="16" text-anchor="start" font-weight="normal" fill="#000" >MY</text>
<polygon points="284,662.6 292.8,662.6 288.4,653.4" fill="#57bc47"/>
<text x="298.19" y="663" font-size="16" text-anchor="start" font-weight="normal" fill="#000" >MYL</text>
<text transform="translate(390.96,593.5) scale(0.95,1)" font-size="16.3" font-weight="bold" fill="#000">F</text>
<rect x="431" y="599.6" width="291.6" height="194.4" fill="none" stroke="#000" stroke-width="1.2"/>
<text x="428.4" y="800" font-size="17.5" text-anchor="end" font-weight="normal" fill="#000" >0</text>
<line x1="431" y1="738.55" x2="437.4" y2="738.55" stroke="#000" stroke-width="1.2" />
<line x1="722.6" y1="738.55" x2="716.2" y2="738.55" stroke="#000" stroke-width="1.2" />
<text x="428.4" y="744.35" font-size="17.5" text-anchor="end" font-weight="normal" fill="#000" >1</text>
<line x1="431" y1="682.9" x2="437.4" y2="682.9" stroke="#000" stroke-width="1.2" />
<line x1="722.6" y1="682.9" x2="716.2" y2="682.9" stroke="#000" stroke-width="1.2" />
<text x="428.4" y="688.7" font-size="17.5" text-anchor="end" font-weight="normal" fill="#000" >2</text>
<line x1="431" y1="627.25" x2="437.4" y2="627.25" stroke="#000" stroke-width="1.2" />
<line x1="722.6" y1="627.25" x2="716.2" y2="627.25" stroke="#000" stroke-width="1.2" />
<text x="428.4" y="633.05" font-size="17.5" text-anchor="end" font-weight="normal" fill="#000" >3</text>
<text x="431" y="811.7" font-size="17.5" text-anchor="middle" font-weight="normal" fill="#000" >0</text>
<line x1="520.65" y1="794" x2="520.65" y2="787.6" stroke="#000" stroke-width="1.2" />
<line x1="520.65" y1="599.6" x2="520.65" y2="606" stroke="#000" stroke-width="1.2" />
<text x="520.65" y="811.7" font-size="17.5" text-anchor="middle" font-weight="normal" fill="#000" >1</text>
<line x1="610.3" y1="794" x2="610.3" y2="787.6" stroke="#000" stroke-width="1.2" />
<line x1="610.3" y1="599.6" x2="610.3" y2="606" stroke="#000" stroke-width="1.2" />
<text x="610.3" y="811.7" font-size="17.5" text-anchor="middle" font-weight="normal" fill="#000" >2</text>
<line x1="699.95" y1="794" x2="699.95" y2="787.6" stroke="#000" stroke-width="1.2" />
<line x1="699.95" y1="599.6" x2="699.95" y2="606" stroke="#000" stroke-width="1.2" />
<text x="699.95" y="811.7" font-size="17.5" text-anchor="middle" font-weight="normal" fill="#000" >3</text>
<text transform="translate(399.1,724.5) rotate(-90)" font-size="17.5" fill="#000">k<tspan font-size="10.8" dy="3.5">app</tspan><tspan dy="-3.5">, s</tspan><tspan font-size="9" dy="-9.3">-1</tspan></text>
<polyline points="431,794.2 431.09,782.51 431.11,780.43 431.13,778.02 431.15,775.26 431.19,772.12 431.22,768.59 431.27,764.64 431.32,760.29 431.39,755.55 431.46,750.45 431.56,745.04 431.67,739.4 431.8,733.61 431.96,727.75 432.15,721.93 432.38,716.25 432.66,710.77 432.99,705.59 433.39,700.75 433.86,696.29 434.44,692.24 435.12,688.6 435.95,685.36 436.94,682.51 438.13,680.01 439.55,677.85 441.26,675.98 443.32,674.37 445.78,673 448.73,671.83 452.28,670.85 456.54,670.01 461.64,669.3 467.77,668.71 475.13,668.21 483.95,667.79 494.54,667.44 507.25,667.14 522.5,666.9 540.8,666.69 562.77,666.52 589.12,666.37 620.74,666.25 658.69,666.15 699.95,666.08" fill="none" stroke="#222" stroke-width="1.2" stroke-linejoin="round" />
<line x1="498.24" y1="655.08" x2="498.24" y2="688.47" stroke="#000" stroke-width="1.2" />
<line x1="494.49" y1="655.08" x2="501.99" y2="655.08" stroke="#000" stroke-width="1.2" />
<line x1="494.49" y1="688.47" x2="501.99" y2="688.47" stroke="#000" stroke-width="1.2" />
<circle cx="498.24" cy="671.77" r="4.2" fill="#000"/>
<line x1="520.65" y1="655.08" x2="520.65" y2="666.21" stroke="#000" stroke-width="1.2" />
<line x1="516.9" y1="655.08" x2="524.4" y2="655.08" stroke="#000" stroke-width="1.2" />
<line x1="516.9" y1="666.21" x2="524.4" y2="666.21" stroke="#000" stroke-width="1.2" />
<circle cx="520.65" cy="660.64" r="4.2" fill="#000"/>
<line x1="610.3" y1="649.51" x2="610.3" y2="671.77" stroke="#000" stroke-width="1.2" />
<line x1="606.55" y1="649.51" x2="614.05" y2="649.51" stroke="#000" stroke-width="1.2" />
<line x1="606.55" y1="671.77" x2="614.05" y2="671.77" stroke="#000" stroke-width="1.2" />
<circle cx="610.3" cy="660.64" r="4.2" fill="#000"/>
<line x1="699.95" y1="660.64" x2="699.95" y2="682.9" stroke="#000" stroke-width="1.2" />
<line x1="696.2" y1="660.64" x2="703.7" y2="660.64" stroke="#000" stroke-width="1.2" />
<line x1="696.2" y1="682.9" x2="703.7" y2="682.9" stroke="#000" stroke-width="1.2" />
<circle cx="699.95" cy="671.77" r="4.2" fill="#000"/>
<text x="464.39" y="837.2" font-size="17.15" text-anchor="start" font-weight="normal" fill="#000" >EF-Tu–GTP–Leu-tRNA</text>
<text x="642.83" y="828.6" font-size="8.5" text-anchor="start" font-weight="normal" fill="#000" >Leu</text>
<text x="655.96" y="837.2" font-size="17.15" text-anchor="start" font-weight="normal" fill="#000" >, µM</text>
<text transform="translate(3.37,857.5) scale(0.95,1)" font-size="16.3" font-weight="bold" fill="#000">G</text>
<rect x="56.9" y="862.4" width="291.9" height="195.4" fill="none" stroke="#000" stroke-width="1.2"/>
<line x1="83.65" y1="1057.8" x2="83.65" y2="1054" stroke="#000" stroke-width="1.2" />
<line x1="83.65" y1="862.4" x2="83.65" y2="866.2" stroke="#000" stroke-width="1.2" />
<line x1="99.18" y1="1057.8" x2="99.18" y2="1054" stroke="#000" stroke-width="1.2" />
<line x1="99.18" y1="862.4" x2="99.18" y2="866.2" stroke="#000" stroke-width="1.2" />
<line x1="110.2" y1="1057.8" x2="110.2" y2="1054" stroke="#000" stroke-width="1.2" />
<line x1="110.2" y1="862.4" x2="110.2" y2="866.2" stroke="#000" stroke-width="1.2" />
<line x1="118.75" y1="1057.8" x2="118.75" y2="1054" stroke="#000" stroke-width="1.2" />
<line x1="118.75" y1="862.4" x2="118.75" y2="866.2" stroke="#000" stroke-width="1.2" />
<line x1="125.73" y1="1057.8" x2="125.73" y2="1054" stroke="#000" stroke-width="1.2" />
<line x1="125.73" y1="862.4" x2="125.73" y2="866.2" stroke="#000" stroke-width="1.2" />
<line x1="131.64" y1="1057.8" x2="131.64" y2="1054" stroke="#000" stroke-width="1.2" />
<line x1="131.64" y1="862.4" x2="131.64" y2="866.2" stroke="#000" stroke-width="1.2" />
<line x1="136.75" y1="1057.8" x2="136.75" y2="1054" stroke="#000" stroke-width="1.2" />
<line x1="136.75" y1="862.4" x2="136.75" y2="866.2" stroke="#000" stroke-width="1.2" />
<line x1="141.26" y1="1057.8" x2="141.26" y2="1054" stroke="#000" stroke-width="1.2" />
<line x1="141.26" y1="862.4" x2="141.26" y2="866.2" stroke="#000" stroke-width="1.2" />
<line x1="145.3" y1="1057.8" x2="145.3" y2="1050.8" stroke="#000" stroke-width="1.2" />
<line x1="145.3" y1="862.4" x2="145.3" y2="869.4" stroke="#000" stroke-width="1.2" />
<line x1="171.85" y1="1057.8" x2="171.85" y2="1054" stroke="#000" stroke-width="1.2" />
<line x1="171.85" y1="862.4" x2="171.85" y2="866.2" stroke="#000" stroke-width="1.2" />
<line x1="187.38" y1="1057.8" x2="187.38" y2="1054" stroke="#000" stroke-width="1.2" />
<line x1="187.38" y1="862.4" x2="187.38" y2="866.2" stroke="#000" stroke-width="1.2" />
<line x1="198.4" y1="1057.8" x2="198.4" y2="1054" stroke="#000" stroke-width="1.2" />
<line x1="198.4" y1="862.4" x2="198.4" y2="866.2" stroke="#000" stroke-width="1.2" />
<line x1="206.95" y1="1057.8" x2="206.95" y2="1054" stroke="#000" stroke-width="1.2" />
<line x1="206.95" y1="862.4" x2="206.95" y2="866.2" stroke="#000" stroke-width="1.2" />
<line x1="213.93" y1="1057.8" x2="213.93" y2="1054" stroke="#000" stroke-width="1.2" />
<line x1="213.93" y1="862.4" x2="213.93" y2="866.2" stroke="#000" stroke-width="1.2" />
<line x1="219.84" y1="1057.8" x2="219.84" y2="1054" stroke="#000" stroke-width="1.2" />
<line x1="219.84" y1="862.4" x2="219.84" y2="866.2" stroke="#000" stroke-width="1.2" />
<line x1="224.95" y1="1057.8" x2="224.95" y2="1054" stroke="#000" stroke-width="1.2" />
<line x1="224.95" y1="862.4" x2="224.95" y2="866.2" stroke="#000" stroke-width="1.2" />
<line x1="229.46" y1="1057.8" x2="229.46" y2="1054" stroke="#000" stroke-width="1.2" />
<line x1="229.46" y1="862.4" x2="229.46" y2="866.2" stroke="#000" stroke-width="1.2" />
<line x1="233.5" y1="1057.8" x2="233.5" y2="1050.8" stroke="#000" stroke-width="1.2" />
<line x1="233.5" y1="862.4" x2="233.5" y2="869.4" stroke="#000" stroke-width="1.2" />
<line x1="260.05" y1="1057.8" x2="260.05" y2="1054" stroke="#000" stroke-width="1.2" />
<line x1="260.05" y1="862.4" x2="260.05" y2="866.2" stroke="#000" stroke-width="1.2" />
<line x1="275.58" y1="1057.8" x2="275.58" y2="1054" stroke="#000" stroke-width="1.2" />
<line x1="275.58" y1="862.4" x2="275.58" y2="866.2" stroke="#000" stroke-width="1.2" />
<line x1="286.6" y1="1057.8" x2="286.6" y2="1054" stroke="#000" stroke-width="1.2" />
<line x1="286.6" y1="862.4" x2="286.6" y2="866.2" stroke="#000" stroke-width="1.2" />
<line x1="295.15" y1="1057.8" x2="295.15" y2="1054" stroke="#000" stroke-width="1.2" />
<line x1="295.15" y1="862.4" x2="295.15" y2="866.2" stroke="#000" stroke-width="1.2" />
<line x1="302.13" y1="1057.8" x2="302.13" y2="1054" stroke="#000" stroke-width="1.2" />
<line x1="302.13" y1="862.4" x2="302.13" y2="866.2" stroke="#000" stroke-width="1.2" />
<line x1="308.04" y1="1057.8" x2="308.04" y2="1054" stroke="#000" stroke-width="1.2" />
<line x1="308.04" y1="862.4" x2="308.04" y2="866.2" stroke="#000" stroke-width="1.2" />
<line x1="313.15" y1="1057.8" x2="313.15" y2="1054" stroke="#000" stroke-width="1.2" />
<line x1="313.15" y1="862.4" x2="313.15" y2="866.2" stroke="#000" stroke-width="1.2" />
<line x1="317.66" y1="1057.8" x2="317.66" y2="1054" stroke="#000" stroke-width="1.2" />
<line x1="317.66" y1="862.4" x2="317.66" y2="866.2" stroke="#000" stroke-width="1.2" />
<line x1="321.7" y1="1057.8" x2="321.7" y2="1050.8" stroke="#000" stroke-width="1.2" />
<line x1="321.7" y1="862.4" x2="321.7" y2="869.4" stroke="#000" stroke-width="1.2" />
<line x1="348.25" y1="1057.8" x2="348.25" y2="1054" stroke="#000" stroke-width="1.2" />
<line x1="348.25" y1="862.4" x2="348.25" y2="866.2" stroke="#000" stroke-width="1.2" />
<line x1="56.9" y1="1052.2" x2="63.5" y2="1052.2" stroke="#000" stroke-width="1.2" />
<line x1="348.8" y1="1052.2" x2="342.2" y2="1052.2" stroke="#000" stroke-width="1.2" />
<text x="54.3" y="1057.9" font-size="17.5" text-anchor="end" font-weight="normal" fill="#000" >0.0</text>
<line x1="56.9" y1="1017.7" x2="63.5" y2="1017.7" stroke="#000" stroke-width="1.2" />
<line x1="348.8" y1="1017.7" x2="342.2" y2="1017.7" stroke="#000" stroke-width="1.2" />
<text x="54.3" y="1023.4" font-size="17.5" text-anchor="end" font-weight="normal" fill="#000" >0.2</text>
<line x1="56.9" y1="983.2" x2="63.5" y2="983.2" stroke="#000" stroke-width="1.2" />
<line x1="348.8" y1="983.2" x2="342.2" y2="983.2" stroke="#000" stroke-width="1.2" />
<text x="54.3" y="988.9" font-size="17.5" text-anchor="end" font-weight="normal" fill="#000" >0.4</text>
<line x1="56.9" y1="948.7" x2="63.5" y2="948.7" stroke="#000" stroke-width="1.2" />
<line x1="348.8" y1="948.7" x2="342.2" y2="948.7" stroke="#000" stroke-width="1.2" />
<text x="54.3" y="954.4" font-size="17.5" text-anchor="end" font-weight="normal" fill="#000" >0.6</text>
<line x1="56.9" y1="914.2" x2="63.5" y2="914.2" stroke="#000" stroke-width="1.2" />
<line x1="348.8" y1="914.2" x2="342.2" y2="914.2" stroke="#000" stroke-width="1.2" />
<text x="54.3" y="919.9" font-size="17.5" text-anchor="end" font-weight="normal" fill="#000" >0.8</text>
<line x1="56.9" y1="879.7" x2="63.5" y2="879.7" stroke="#000" stroke-width="1.2" />
<line x1="348.8" y1="879.7" x2="342.2" y2="879.7" stroke="#000" stroke-width="1.2" />
<text x="54.3" y="885.4" font-size="17.5" text-anchor="end" font-weight="normal" fill="#000" >1.0</text>
<text x="57.1" y="1075.6" font-size="17.5" text-anchor="middle" font-weight="normal" fill="#000" >0.01</text>
<text x="145.3" y="1075.6" font-size="17.5" text-anchor="middle" font-weight="normal" fill="#000" >0.1</text>
<text x="233.5" y="1075.6" font-size="17.5" text-anchor="middle" font-weight="normal" fill="#000" >1</text>
<text x="321.7" y="1075.6" font-size="17.5" text-anchor="middle" font-weight="normal" fill="#000" >10</text>
<text x="177.02" y="1100.7" font-size="17.5" text-anchor="start" font-weight="normal" fill="#000" >Time, s</text>
<text transform="translate(17.5,1044.2) rotate(-90)" font-size="17.5" fill="#000">[<tspan font-size="9.3" dy="-8">3</tspan><tspan dy="8">H] peptides, fraction</tspan></text>
<polyline points="83.2,1030.2 118.4,1006.6 140,984.8 149.9,975.9 159.9,968.9 164.9,966.4 171.8,964.9 179.8,966.4 187.7,968.9 195.7,975.9 200,980.8 205,985.7 211.9,994.7 219.9,1003.6 226.8,1012.6 233.8,1018.6 241.8,1022.5 249.7,1026 257.7,1027.5 270,1028.5 321.8,1028.8" fill="none" stroke="#707070" stroke-width="1.2" stroke-linejoin="round" />
<rect x="79.25" y="1036.15" width="7.9" height="7.9" fill="#7f7f7f"/>
<rect x="114.45" y="1007.65" width="7.9" height="7.9" fill="#7f7f7f"/>
<rect x="141.25" y="968.65" width="7.9" height="7.9" fill="#7f7f7f"/>
<rect x="167.85" y="950.55" width="7.9" height="7.9" fill="#7f7f7f"/>
<rect x="183.45" y="964.15" width="7.9" height="7.9" fill="#7f7f7f"/>
<rect x="194.45" y="977.35" width="7.9" height="7.9" fill="#7f7f7f"/>
<rect x="202.55" y="990.75" width="7.9" height="7.9" fill="#7f7f7f"/>
<rect x="210.05" y="997.65" width="7.9" height="7.9" fill="#7f7f7f"/>
<rect x="216.25" y="1002.55" width="7.9" height="7.9" fill="#7f7f7f"/>
<rect x="229.55" y="1011.55" width="7.9" height="7.9" fill="#7f7f7f"/>
<rect x="245.25" y="1017.05" width="7.9" height="7.9" fill="#7f7f7f"/>
<rect x="255.95" y="1028.85" width="7.9" height="7.9" fill="#7f7f7f"/>
<rect x="272.05" y="1028.15" width="7.9" height="7.9" fill="#7f7f7f"/>
<rect x="291.65" y="1027.05" width="7.9" height="7.9" fill="#7f7f7f"/>
<rect x="317.85" y="1024.85" width="7.9" height="7.9" fill="#7f7f7f"/>
<polyline points="83.2,905.6 118.4,929.7 132.1,946.5 140,955 149.9,966.4 159.9,978.8 169.8,990.3 179.8,998.7 187.7,1004.2 195.7,1008.7 203.6,1011.2 209.9,1012.4 219.9,1013.1 270,1013.6 321.8,1013.8" fill="none" stroke="#1ea4e0" stroke-width="1.3" stroke-linejoin="round" />
<circle cx="83.2" cy="897.9" r="4.2" fill="#1ea4e0"/>
<circle cx="118.4" cy="925.4" r="4.2" fill="#1ea4e0"/>
<circle cx="145.2" cy="967.4" r="4.2" fill="#1ea4e0"/>
<circle cx="171.8" cy="994.9" r="4.2" fill="#1ea4e0"/>
<circle cx="187.4" cy="1001.6" r="4.2" fill="#1ea4e0"/>
<circle cx="198.4" cy="1007.1" r="4.2" fill="#1ea4e0"/>
<circle cx="206.5" cy="1007.9" r="4.2" fill="#1ea4e0"/>
<circle cx="214" cy="1009.8" r="4.2" fill="#1ea4e0"/>
<circle cx="220.2" cy="1011.8" r="4.2" fill="#1ea4e0"/>
<circle cx="233.5" cy="1015.6" r="4.2" fill="#1ea4e0"/>
<circle cx="249.2" cy="1017.6" r="4.2" fill="#1ea4e0"/>
<circle cx="259.9" cy="1015.8" r="4.2" fill="#1ea4e0"/>
<circle cx="276" cy="1016.5" r="4.2" fill="#1ea4e0"/>
<circle cx="295.6" cy="1017.1" r="4.2" fill="#1ea4e0"/>
<circle cx="321.8" cy="1018.7" r="4.2" fill="#1ea4e0"/>
<polyline points="83.2,1050.8 118.4,1047.6 140,1043.5 149.9,1040 159.9,1035 169.8,1030.5 179.8,1026.1 189.7,1022.6 199.7,1019.6 209.9,1019.5 219.9,1023.5 229.8,1028.5 239.8,1034.5 249.7,1037.9 259.7,1038.9 270,1039.4 321.8,1039.9" fill="none" stroke="#4a4a4a" stroke-width="1.3" stroke-linejoin="round" stroke-dasharray="4,2.6"/>
<polyline points="83.2,1050.6 118.4,1050.8 140,1048.9 149.9,1046.9 159.9,1044 169.8,1040 179.8,1035 187.7,1031 195.7,1026.4 200,1024.2 204,1023 208,1022.5 212,1023 219.9,1024.5 226.8,1027.5 233.8,1030.5 241.8,1034.5 249.7,1037.9 257.7,1038.9 270,1039.4 321.8,1039.5" fill="none" stroke="#5fc04f" stroke-width="1.3" stroke-linejoin="round" />
<polygon points="79.1,1047 87.3,1047 83.2,1054.4" fill="#57bc47"/>
<polygon points="114.3,1047 122.5,1047 118.4,1054.4" fill="#57bc47"/>
<polygon points="141.1,1046.2 149.3,1046.2 145.2,1053.6" fill="#57bc47"/>
<polygon points="167.7,1039.5 175.9,1039.5 171.8,1046.9" fill="#57bc47"/>
<polygon points="183.3,1026.4 191.5,1026.4 187.4,1033.8" fill="#57bc47"/>
<polygon points="194.3,1020.4 202.5,1020.4 198.4,1027.8" fill="#57bc47"/>
<polygon points="202.4,1013.5 210.6,1013.5 206.5,1020.9" fill="#57bc47"/>
<polygon points="210.2,1012.8 218.4,1012.8 214.3,1020.2" fill="#57bc47"/>
<polygon points="216.1,1023.4 224.3,1023.4 220.2,1030.8" fill="#57bc47"/>
<polygon points="229.4,1025.6 237.6,1025.6 233.5,1033" fill="#57bc47"/>
<polygon points="245.1,1034.6 253.3,1034.6 249.2,1042" fill="#57bc47"/>
<polygon points="255.8,1031.3 264,1031.3 259.9,1038.7" fill="#57bc47"/>
<polygon points="271.9,1035.1 280.1,1035.1 276,1042.5" fill="#57bc47"/>
<polygon points="291.5,1036.8 299.7,1036.8 295.6,1044.2" fill="#57bc47"/>
<polygon points="317.7,1028.3 325.9,1028.3 321.8,1035.7" fill="#57bc47"/>
<polyline points="83.2,1052.5 118.4,1053.8 140,1054.6 149.9,1054.4 159.9,1053.9 169.8,1051.9 179.8,1046.9 187.7,1041 193.7,1034 200,1024.5 206,1014 212,1003.6 219.9,991.7 226.8,981.8 233.8,971.8 241.8,964.9 249.7,957.9 257.7,955.4 270,953.9 321.8,953.2" fill="none" stroke="#c054a8" stroke-width="1.3" stroke-linejoin="round" />
<polygon points="79.1,1055.6 87.3,1055.6 83.2,1048.2" fill="#b8449f"/>
<polygon points="114.3,1055.6 122.5,1055.6 118.4,1048.2" fill="#b8449f"/>
<polygon points="141.1,1055.6 149.3,1055.6 145.2,1048.2" fill="#b8449f"/>
<polygon points="167.7,1054.4 175.9,1054.4 171.8,1047" fill="#b8449f"/>
<polygon points="183.3,1046.9 191.5,1046.9 187.4,1039.5" fill="#b8449f"/>
<polygon points="194.3,1033.3 202.5,1033.3 198.4,1025.9" fill="#b8449f"/>
<polygon points="202.4,1019.6 210.6,1019.6 206.5,1012.2" fill="#b8449f"/>
<polygon points="209.9,1004.6 218.1,1004.6 214,997.2" fill="#b8449f"/>
<polygon points="215.9,995.8 224.1,995.8 220,988.4" fill="#b8449f"/>
<polygon points="229.4,978.3 237.6,978.3 233.5,970.9" fill="#b8449f"/>
<polygon points="245.1,968.7 253.3,968.7 249.2,961.3" fill="#b8449f"/>
<polygon points="255.8,960.4 264,960.4 259.9,953" fill="#b8449f"/>
<polygon points="271.9,956 280.1,956 276,948.6" fill="#b8449f"/>
<polygon points="291.5,957.1 299.7,957.1 295.6,949.7" fill="#b8449f"/>
<polygon points="317.7,959.3 325.9,959.3 321.8,951.9" fill="#b8449f"/>
<circle cx="288.4" cy="884.2" r="4.5" fill="#1ea4e0"/>
<text x="298.19" y="888.8" font-size="16" text-anchor="start" font-weight="normal" fill="#000" >MY</text>
<rect x="284.1" y="897.5" width="8.6" height="8.6" fill="#7f7f7f"/>
<text x="298.19" y="906.3" font-size="16" text-anchor="start" font-weight="normal" fill="#000" >MY</text>
<polygon points="284,924.6 292.8,924.6 288.4,915.4" fill="#57bc47"/>
<text x="298.19" y="925.3" font-size="16" text-anchor="start" font-weight="normal" fill="#000" >MYL</text>
<polygon points="284,932.4 292.8,932.4 288.4,941.6" fill="#b8449f"/>
<text x="298.19" y="942" font-size="16" text-anchor="start" font-weight="normal" fill="#000" >MYLK</text>
<text transform="translate(390.96,857.5) scale(0.95,1)" font-size="16.3" font-weight="bold" fill="#000">H</text>
<rect x="431" y="862.6" width="291.6" height="194.5" fill="none" stroke="#000" stroke-width="1.2"/>
<text x="428.4" y="1063.3" font-size="17.5" text-anchor="end" font-weight="normal" fill="#000" >0</text>
<line x1="431" y1="1014.2" x2="437.4" y2="1014.2" stroke="#000" stroke-width="1.2" />
<line x1="722.6" y1="1014.2" x2="716.2" y2="1014.2" stroke="#000" stroke-width="1.2" />
<text x="428.4" y="1020" font-size="17.5" text-anchor="end" font-weight="normal" fill="#000" >2</text>
<line x1="431" y1="970.9" x2="437.4" y2="970.9" stroke="#000" stroke-width="1.2" />
<line x1="722.6" y1="970.9" x2="716.2" y2="970.9" stroke="#000" stroke-width="1.2" />
<text x="428.4" y="976.7" font-size="17.5" text-anchor="end" font-weight="normal" fill="#000" >4</text>
<line x1="431" y1="927.6" x2="437.4" y2="927.6" stroke="#000" stroke-width="1.2" />
<line x1="722.6" y1="927.6" x2="716.2" y2="927.6" stroke="#000" stroke-width="1.2" />
<text x="428.4" y="933.4" font-size="17.5" text-anchor="end" font-weight="normal" fill="#000" >6</text>
<line x1="431" y1="884.3" x2="437.4" y2="884.3" stroke="#000" stroke-width="1.2" />
<line x1="722.6" y1="884.3" x2="716.2" y2="884.3" stroke="#000" stroke-width="1.2" />
<text x="428.4" y="890.1" font-size="17.5" text-anchor="end" font-weight="normal" fill="#000" >8</text>
<text x="431" y="1075.6" font-size="17.5" text-anchor="middle" font-weight="normal" fill="#000" >0</text>
<line x1="520.65" y1="1057.1" x2="520.65" y2="1050.7" stroke="#000" stroke-width="1.2" />
<line x1="520.65" y1="862.6" x2="520.65" y2="869" stroke="#000" stroke-width="1.2" />
<text x="520.65" y="1075.6" font-size="17.5" text-anchor="middle" font-weight="normal" fill="#000" >1</text>
<line x1="610.3" y1="1057.1" x2="610.3" y2="1050.7" stroke="#000" stroke-width="1.2" />
<line x1="610.3" y1="862.6" x2="610.3" y2="869" stroke="#000" stroke-width="1.2" />
<text x="610.3" y="1075.6" font-size="17.5" text-anchor="middle" font-weight="normal" fill="#000" >2</text>
<line x1="699.95" y1="1057.1" x2="699.95" y2="1050.7" stroke="#000" stroke-width="1.2" />
<line x1="699.95" y1="862.6" x2="699.95" y2="869" stroke="#000" stroke-width="1.2" />
<text x="699.95" y="1075.6" font-size="17.5" text-anchor="middle" font-weight="normal" fill="#000" >3</text>
<text transform="translate(400.2,987.5) rotate(-90)" font-size="17.5" fill="#000">k<tspan font-size="10.8" dy="3.5">app</tspan><tspan dy="-3.5">, s</tspan><tspan font-size="9" dy="-9.3">-1</tspan></text>
<polyline points="431,1057.5 432.79,1052.47 434.59,1047.7 436.38,1043.17 438.17,1038.85 439.96,1034.75 441.76,1030.83 443.55,1027.09 445.34,1023.51 447.14,1020.09 448.93,1016.82 450.72,1013.68 452.52,1010.67 454.31,1007.78 456.1,1005 457.89,1002.33 459.69,999.76 461.48,997.28 463.27,994.89 465.07,992.59 466.86,990.37 468.65,988.23 470.45,986.16 472.24,984.15 474.03,982.22 475.82,980.34 477.62,978.52 479.41,976.77 481.2,975.06 483,973.41 484.79,971.8 486.58,970.25 488.38,968.73 490.17,967.26 491.96,965.84 493.75,964.45 495.55,963.1 497.34,961.78 499.13,960.51 500.93,959.26 502.72,958.05 504.51,956.87 506.31,955.71 508.1,954.59 509.89,953.49 511.69,952.43 513.48,951.38 515.27,950.36 517.06,949.37 518.86,948.4 520.65,947.45 522.44,946.52 524.24,945.61 526.03,944.73 527.82,943.86 529.62,943.01 531.41,942.18 533.2,941.37 534.99,940.57 536.79,939.8 538.58,939.03 540.37,938.28 542.17,937.55 543.96,936.84 545.75,936.13 547.55,935.44 549.34,934.77 551.13,934.1 552.92,933.45 554.72,932.81 556.51,932.19 558.3,931.57 560.1,930.97 561.89,930.38 563.68,929.79 565.48,929.22 567.27,928.66 569.06,928.11 570.85,927.57 572.65,927.03 574.44,926.51 576.23,925.99 578.03,925.49 579.82,924.99 581.61,924.5 583.4,924.02 585.2,923.55 586.99,923.08 588.78,922.62 590.58,922.17 592.37,921.73 594.16,921.29 595.96,920.86 597.75,920.43 599.54,920.02 601.34,919.61 603.13,919.2 604.92,918.8 606.71,918.41 608.51,918.02 610.3,917.64 612.09,917.26 613.89,916.89 615.68,916.53 617.47,916.17 619.26,915.81 621.06,915.46 622.85,915.12 624.64,914.78 626.44,914.44 628.23,914.11 630.02,913.78 631.82,913.46 633.61,913.14 635.4,912.83 637.2,912.52 638.99,912.21 640.78,911.91 642.57,911.61 644.37,911.32 646.16,911.03 647.95,910.74 649.75,910.46 651.54,910.18 653.33,909.9 655.12,909.63 656.92,909.36 658.71,909.09 660.5,908.83 662.3,908.57 664.09,908.31 665.88,908.06 667.68,907.81 669.47,907.56 671.26,907.32 673.06,907.08 674.85,906.84 676.64,906.6 678.43,906.37 680.23,906.14 682.02,905.91 683.81,905.68 685.61,905.46 687.4,905.24 689.19,905.02 690.99,904.8 692.78,904.59 694.57,904.38 696.36,904.17 698.16,903.96 699.95,903.76" fill="none" stroke="#222" stroke-width="1.2" stroke-linejoin="round" />
<line x1="498.24" y1="949.9" x2="498.24" y2="971.55" stroke="#000" stroke-width="1.2" />
<line x1="494.49" y1="949.9" x2="501.99" y2="949.9" stroke="#000" stroke-width="1.2" />
<line x1="494.49" y1="971.55" x2="501.99" y2="971.55" stroke="#000" stroke-width="1.2" />
<circle cx="498.24" cy="960.72" r="4.2" fill="#000"/>
<line x1="520.65" y1="938.42" x2="520.65" y2="960.08" stroke="#000" stroke-width="1.2" />
<line x1="516.9" y1="938.42" x2="524.4" y2="938.42" stroke="#000" stroke-width="1.2" />
<line x1="516.9" y1="960.08" x2="524.4" y2="960.08" stroke="#000" stroke-width="1.2" />
<circle cx="520.65" cy="949.25" r="4.2" fill="#000"/>
<line x1="610.3" y1="895.12" x2="610.3" y2="934.1" stroke="#000" stroke-width="1.2" />
<line x1="606.55" y1="895.12" x2="614.05" y2="895.12" stroke="#000" stroke-width="1.2" />
<line x1="606.55" y1="934.1" x2="614.05" y2="934.1" stroke="#000" stroke-width="1.2" />
<circle cx="610.3" cy="914.61" r="4.2" fill="#000"/>
<line x1="699.95" y1="886.47" x2="699.95" y2="925.43" stroke="#000" stroke-width="1.2" />
<line x1="696.2" y1="886.47" x2="703.7" y2="886.47" stroke="#000" stroke-width="1.2" />
<line x1="696.2" y1="925.43" x2="703.7" y2="925.43" stroke="#000" stroke-width="1.2" />
<circle cx="699.95" cy="905.95" r="4.2" fill="#000"/>
<text x="468.1" y="1100.5" font-size="17.06" text-anchor="start" font-weight="normal" fill="#000" >EF-Tu–GTP–Lys-tRNA</text>
<text x="643.83" y="1092" font-size="8.4" text-anchor="start" font-weight="normal" fill="#000" >Lys</text>
<text x="655.97" y="1100.5" font-size="17.06" text-anchor="start" font-weight="normal" fill="#000" >, µM</text>
</svg></body></html>
